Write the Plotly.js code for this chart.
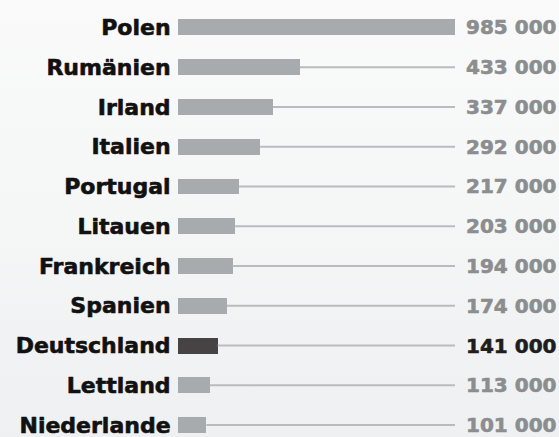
<!DOCTYPE html>
<html><head><meta charset="utf-8">
<script src="https://cdn.plot.ly/plotly-3.0.1.min.js"></script>
<style>
html,body{margin:0;padding:0;width:559px;height:437px;overflow:hidden;
background:linear-gradient(to bottom,#fafafa 0%,#f5f6f6 50%,#eef0f1 100%);}
#chart{width:559px;height:437px;}
</style></head><body><div id="chart"></div>
<script>
const countries = ["Polen","Rumänien","Irland","Italien","Portugal","Litauen","Frankreich","Spanien","Deutschland","Lettland","Niederlande"];
const values = [985000,433000,337000,292000,217000,203000,194000,174000,141000,113000,101000];
const valueLabels = ["985 000","433 000","337 000","292 000","217 000","203 000","194 000","174 000","141 000","113 000","101 000"];
const highlight = "Deutschland";

const maxV = Math.max(...values);
const barColors = countries.map(c => c === highlight ? "#474244" : "#a8abae");
const valColors = countries.map(c => c === highlight ? "#1f1d1e" : "#8b8d8f");
const FONT = "DejaVu Sans";

const lx = [], ly = [];
countries.forEach((c,i)=>{ lx.push(values[i], maxV, null); ly.push(c, c, null); });

const traces = [
  {type:"scatter", mode:"lines", x:lx, y:ly, line:{color:"#b9bcbf", width:2},
   hoverinfo:"skip", showlegend:false},
  {type:"bar", orientation:"h", x:values, y:countries, width:0.4,
   marker:{color:barColors, line:{width:0}}, hoverinfo:"skip", showlegend:false}
];

const annotations = countries.map((c,i)=>({
  xref:"paper", x:1, xshift:9, xanchor:"left",
  yref:"y", y:c, yanchor:"middle", showarrow:false,
  text:valueLabels[i],
  font:{family:FONT, size:20, weight:700, color:valColors[i]}
}));

const layout = {
  width:559, height:437,
  margin:{l:178, r:104, t:0, b:0, pad:0},
  paper_bgcolor:"rgba(0,0,0,0)", plot_bgcolor:"rgba(0,0,0,0)",
  xaxis:{range:[0,maxV], visible:false, fixedrange:true},
  yaxis:{type:"category", categoryorder:"array", categoryarray:countries,
         range:[10.3,-0.69], showgrid:false, zeroline:false, showline:false,
         ticks:"outside", ticklen:2, tickcolor:"rgba(0,0,0,0)",
         tickfont:{family:FONT, size:22, weight:700, color:"#111111"}},
  bargap:0, annotations:annotations, showlegend:false
};
Plotly.newPlot("chart", traces, layout, {displayModeBar:false, staticPlot:true}).then(gd=>{
  gd.querySelectorAll(".ytick text, .annotation-text").forEach(t=>{
    const f = t.style.fill || t.getAttribute("fill");
    if (f) { t.style.stroke = f; t.style.strokeWidth = "0.6px"; t.style.strokeLinejoin = "round"; }
  });
});
</script></body></html>
